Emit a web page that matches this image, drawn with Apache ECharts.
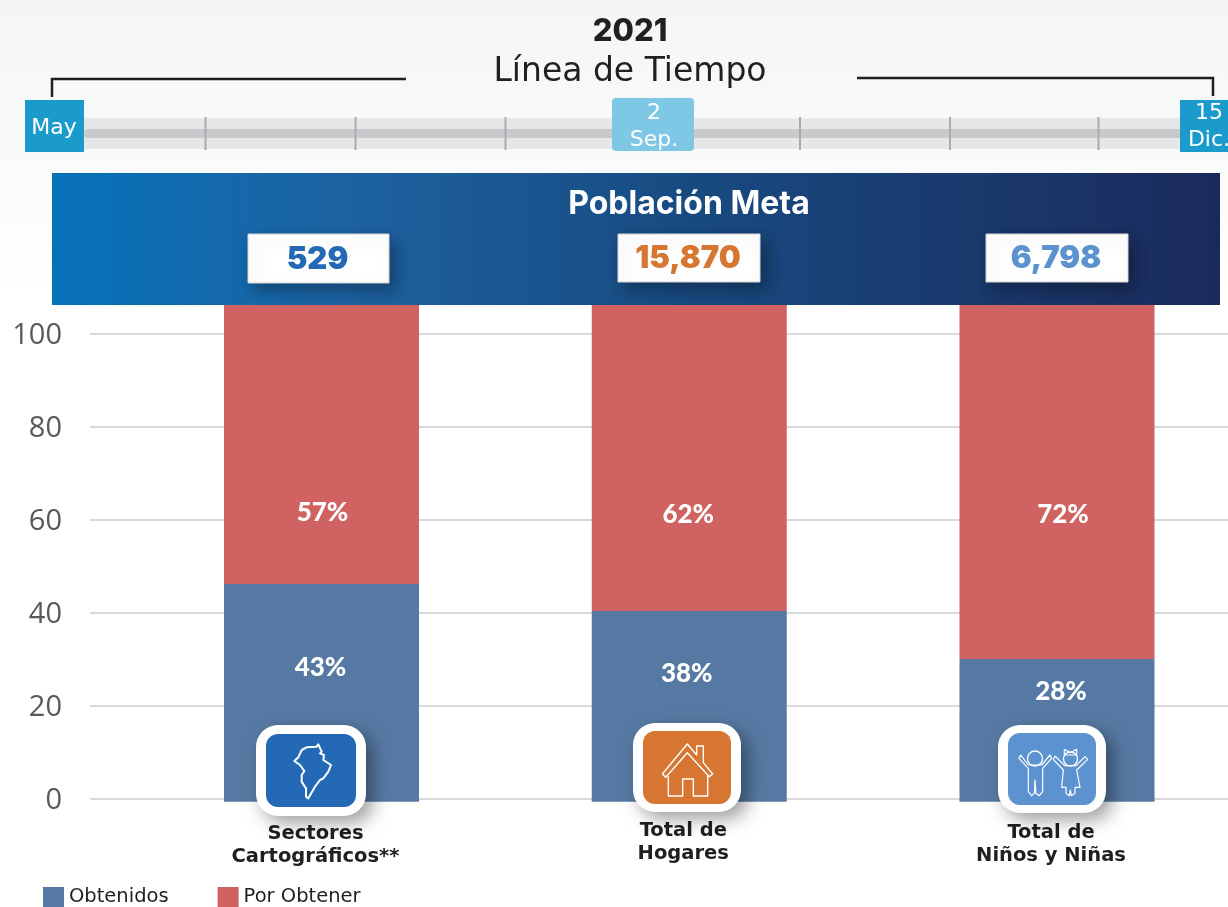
<!DOCTYPE html>
<html>
<head>
<meta charset="utf-8">
<style>
html, body { margin: 0; padding: 0; background: #fff; overflow: hidden; }
#main { width: 1228px; height: 907px; }
</style>
<script src="https://cdn.jsdelivr.net/npm/echarts@6/dist/echarts.min.js"></script>
</head>
<body>
<div id="main"></div>
<script>
var chartDom = document.getElementById('main');
var myChart = echarts.init(chartDom);

const categorias = ['Sectores\nCartográficos**', 'Total de\nHogares', 'Total de\nNiños y Niñas'];
const obtenidos = [46.2, 40.4, 30.1];
const porObtener = [60, 65.8, 76.1];
// the blue bars start a little under the zero line in the picture
const bajoCero = [-0.6, -0.6, -0.6];
const etiquetasObtenidos = ['43%', '38%', '28%'];
const etiquetasPorObtener = ['57%', '62%', '72%'];
const poblacionMeta = ['529', '15,870', '6,798'];

// label offsets in px, the labels do not sit in the middle of the segments
const offsetObtenidos = [[-1, -24], [-2.5, -31], [4, -37]];
const offsetPorObtener = [[1, 68], [-1, 57], [6, 33]];
const labelTop = [-2, -5, -3];

const AZUL = '#5679a3';
const ROJO = '#d06362';
const FONT = 'Inter, "Noto Sans", sans-serif';
const FONT_ANCHA = '"DejaVu Sans", Inter, sans-serif';
const COLORES_META = ['#2369b5', '#d67632', '#5b92cf'];

function segmento(values, etiquetas, offsets) {
    return values.map(function (v, i) {
        return {
            value: v,
            label: { formatter: etiquetas[i], offset: offsets[i] }
        };
    });
}

function barLabel() {
    return {
        show: true,
        position: 'inside',
        color: '#fff',
        fontFamily: 'Lato, "Open Sans", sans-serif',
        fontWeight: 900,
        fontSize: 26
    };
}

function trazo(pts, x0, y0, w) {
    return {
        type: 'polyline',
        z: 12,
        shape: { points: pts.map(function (p) { return [p[0] / 3 + x0, p[1] / 3 + y0]; }) },
        style: { fill: null, stroke: '#fff', lineWidth: w, lineJoin: 'round' }
    };
}

function circulo(cx, cy, r) {
    return {
        type: 'circle',
        z: 12,
        shape: { cx: cx, cy: cy, r: r },
        style: { fill: null, stroke: '#fff', lineWidth: 1.3 }
    };
}

function texto(t, x, y, size, weight, color, family) {
    return {
        type: 'text',
        z: 12,
        style: {
            text: t, x: x, y: y,
            fontFamily: family || FONT, fontSize: size, fontWeight: weight,
            fill: color, textAlign: 'center', textVerticalAlign: 'middle'
        }
    };
}

function tarjeta(x, y, w, h, ix, iy, iw, ih, color) {
    return [{
        type: 'rect',
        z: 10,
        shape: { x: x, y: y, width: w, height: h, r: 22 },
        style: { fill: '#fff', shadowBlur: 18, shadowColor: 'rgba(0,0,0,0.38)', shadowOffsetX: 7, shadowOffsetY: 7 }
    }, {
        type: 'rect',
        z: 11,
        shape: { x: ix, y: iy, width: iw, height: ih, r: 12 },
        style: { fill: color }
    }];
}

function cajaMeta(x, y, w, h, t, color) {
    return [{
        type: 'rect',
        z: 10,
        shape: { x: x, y: y, width: w, height: h },
        style: { fill: '#fff', stroke: '#d4d4d4', lineWidth: 1, shadowBlur: 16, shadowColor: 'rgba(0,0,0,0.3)', shadowOffsetX: 6, shadowOffsetY: 7 }
    }, texto(t, x + w / 2 - 1, y + h / 2 + 1, 31, 900, color)];
}

function marcaTiempo(x) {
    return { type: 'rect', z: 5, shape: { x: x - 1, y: 117, width: 2, height: 33 }, style: { fill: '#a9abae' } };
}

var mapa = [[905, 150], [920, 142], [950, 140], [955, 133], [965, 155], [960, 160], [972, 165], [970, 180], [993, 195], [985, 215], [970, 235], [960, 240], [945, 260], [925, 295], [918, 290], [918, 265], [905, 245], [905, 225], [913, 213], [900, 195], [883, 183], [895, 172], [905, 150]];
var techo = [[187, 222], [262, 132], [290, 165], [290, 138], [310, 138], [310, 188], [338, 222], [328, 230], [262, 158], [197, 232], [187, 222]];
var casa = [[205, 228], [205, 288], [248, 288], [248, 237], [280, 237], [280, 288], [323, 288], [323, 228]];
var nino = [[1262, 165], [1257, 175], [1285, 205], [1285, 275], [1295, 287], [1303, 280], [1305, 240], [1308, 280], [1318, 287], [1328, 275], [1328, 205], [1355, 175], [1350, 165], [1325, 195], [1285, 195], [1262, 165]];
var nina = [[1365, 168], [1360, 178], [1390, 210], [1385, 262], [1398, 262], [1398, 280], [1408, 287], [1411, 270], [1414, 287], [1425, 280], [1425, 262], [1440, 262], [1430, 210], [1463, 178], [1455, 170], [1428, 197], [1394, 197], [1365, 168]];
var lazo = [[1393, 148], [1411, 158], [1430, 148], [1430, 165], [1393, 165], [1393, 148]];

var adornos = [
    texto('2021', 630, 32, 31, 800, '#231f20'),
    texto('Línea de Tiempo', 630, 72, 33, 400, '#231f20', FONT_ANCHA),
    // bracket lines
    { type: 'polyline', z: 5, shape: { points: [[52, 97], [52, 79], [406, 79]] }, style: { fill: null, stroke: '#231f20', lineWidth: 2.5 } },
    { type: 'polyline', z: 5, shape: { points: [[1213, 96], [1213, 78], [857, 78]] }, style: { fill: null, stroke: '#231f20', lineWidth: 2.5 } },
    // timeline rail
    { type: 'rect', z: 4, shape: { x: 84, y: 118, width: 1100, height: 31 }, style: { fill: '#e6e7e8' } },
    { type: 'rect', z: 4, shape: { x: 84, y: 129, width: 1100, height: 9, r: 4 }, style: { fill: '#c8c9cb' } },
    marcaTiempo(205.5), marcaTiempo(355.5), marcaTiempo(505.5),
    marcaTiempo(800), marcaTiempo(950), marcaTiempo(1098.5),
    { type: 'rect', z: 6, shape: { x: 25, y: 100, width: 59, height: 52 }, style: { fill: '#1b9bcb' } },
    texto('May', 54, 128, 22, 400, '#fff', FONT_ANCHA),
    { type: 'rect', z: 6, shape: { x: 612, y: 98, width: 82, height: 53, r: 4 }, style: { fill: '#7ec8e6' } },
    texto('2', 654, 113, 22, 400, '#fff', FONT_ANCHA),
    texto('Sep.', 654, 140, 22, 400, '#fff', FONT_ANCHA),
    { type: 'rect', z: 6, shape: { x: 1180, y: 100, width: 48, height: 52 }, style: { fill: '#1b9bcb' } },
    texto('15', 1209, 113, 22, 400, '#fff', FONT_ANCHA),
    texto('Dic.', 1209, 140, 22, 400, '#fff', FONT_ANCHA),
    // banner
    {
        type: 'rect',
        z: 9,
        shape: { x: 52, y: 173, width: 1168, height: 132 },
        style: {
            fill: new echarts.graphic.LinearGradient(0, 0, 1, 0, [
                { offset: 0, color: '#0672ba' },
                { offset: 0.25, color: '#1d62a1' },
                { offset: 0.55, color: '#184a80' },
                { offset: 1, color: '#1b2a5c' }
            ])
        }
    },
    texto('Población Meta', 689, 204, 32, 700, '#fff')
].concat(
    cajaMeta(248, 234, 141, 49, poblacionMeta[0], COLORES_META[0]),
    cajaMeta(618, 234, 142, 48, poblacionMeta[1], COLORES_META[1]),
    cajaMeta(986, 234, 142, 48, poblacionMeta[2], COLORES_META[2]),
    tarjeta(256, 725, 110, 91, 266, 734, 90, 73, COLORES_META[0]),
    tarjeta(633, 723, 108, 89, 643, 731, 88, 73, COLORES_META[1]),
    tarjeta(998, 725, 108, 88, 1008, 733, 88, 72, COLORES_META[2]),
    [
        trazo(mapa, 0, 700, 2),
        trazo(techo, 600, 700, 1.4),
        trazo(casa, 600, 700, 1.4),
        trazo(nino, 600, 700, 1.2),
        trazo(nina, 600, 700, 1.2),
        trazo(lazo, 600, 700, 1.2),
        circulo(1035, 758.5, 7.5),
        circulo(1070.5, 759, 7)
    ]
);

var option = {
    animation: false,
    backgroundColor: new echarts.graphic.LinearGradient(0, 0, 0, 1, [
        { offset: 0, color: '#f4f5f5' },
        { offset: 0.33, color: '#ffffff' },
        { offset: 1, color: '#ffffff' }
    ]),
    // grid 0 holds the scale and gridlines, grid 1 the bars, same px per unit
    grid: [
        { left: 90, right: 0, top: 334, height: 465 },
        { left: 321.5, width: 735.5, top: 305, height: 497 }
    ],
    legend: {
        data: ['Obtenidos', 'Por Obtener'],
        left: 43,
        top: 887,
        icon: 'rect',
        itemWidth: 21,
        itemHeight: 20,
        itemGap: 49,
        padding: 0,
        textStyle: { color: '#1f1f1f', fontFamily: FONT_ANCHA, fontSize: 19.5 }
    },
    xAxis: [{
        gridIndex: 0,
        type: 'category',
        data: categorias,
        show: false
    }, {
        gridIndex: 1,
        type: 'category',
        boundaryGap: false,
        data: categorias.map(function (c, i) {
            return { value: c, textStyle: { padding: [labelTop[i], 12, 0, 0] } };
        }),
        axisLine: { show: false },
        axisTick: { show: false },
        axisLabel: {
            interval: 0,
            margin: 22,
            color: '#1f1f1f',
            fontFamily: FONT_ANCHA,
            fontWeight: 'bold',
            fontSize: 19.5,
            lineHeight: 23
        }
    }],
    yAxis: [{
        gridIndex: 0,
        type: 'value',
        min: 0,
        max: 100,
        interval: 20,
        axisLine: { show: false },
        axisTick: { show: false },
        // thin line box with top align pushes the numbers 2px under the gridline centre
        axisLabel: { margin: 28, verticalAlign: 'top', lineHeight: 4, color: '#595959', fontFamily: '"Open Sans", sans-serif', fontSize: 29 },
        splitLine: { lineStyle: { color: '#d9d9d9', width: 2 } }
    }, {
        gridIndex: 1,
        type: 'value',
        min: -0.65,
        max: 106.2,
        show: false
    }],
    series: [{
        name: 'Obtenidos',
        type: 'bar',
        xAxisIndex: 1,
        yAxisIndex: 1,
        stack: 'total',
        barWidth: 195,
        clip: false,
        itemStyle: { color: AZUL },
        label: barLabel(),
        data: segmento(obtenidos, etiquetasObtenidos, offsetObtenidos)
    }, {
        name: 'Obtenidos',
        type: 'bar',
        xAxisIndex: 1,
        yAxisIndex: 1,
        stack: 'total',
        barWidth: 195,
        clip: false,
        itemStyle: { color: AZUL },
        data: bajoCero
    }, {
        name: 'Por Obtener',
        type: 'bar',
        xAxisIndex: 1,
        yAxisIndex: 1,
        stack: 'total',
        barWidth: 195,
        clip: false,
        itemStyle: { color: ROJO },
        label: barLabel(),
        data: segmento(porObtener, etiquetasPorObtener, offsetPorObtener)
    }],
    graphic: { elements: adornos }
};

myChart.setOption(option);
</script>
</body>
</html>
